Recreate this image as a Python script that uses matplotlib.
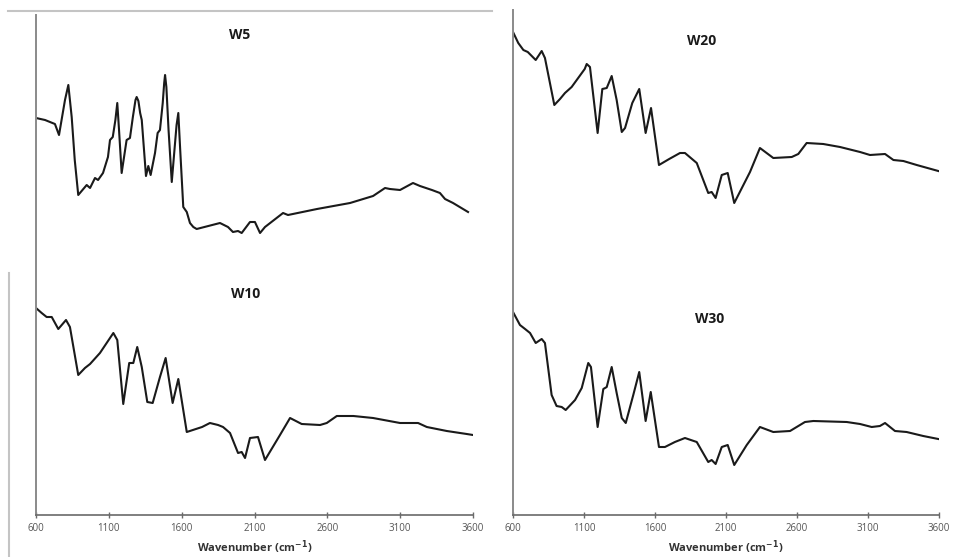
import matplotlib
matplotlib.use("Agg")
import matplotlib.pyplot as plt
from matplotlib.lines import Line2D

# ---- data (wavenumber in cm-1, relative transmittance in arbitrary units) ----
w5_wn = [600, 662, 696, 730, 758, 799, 822, 845, 866, 890, 948, 971, 1005, 1026, 1060, 1094,
         1108, 1127, 1145, 1158, 1170, 1188, 1222, 1245, 1265, 1283, 1291, 1303, 1315, 1326,
         1355, 1371, 1387, 1417, 1435, 1451, 1470, 1480, 1486, 1495, 1510, 1532, 1565, 1577,
         1590, 1611, 1635, 1657, 1680, 1703, 1863, 1918, 1952, 1987, 2012, 2069, 2103, 2138,
         2172, 2296, 2330, 2529, 2756, 2914, 2996, 3030, 3099, 3188, 3236, 3318, 3373, 3408,
         3463, 3566]
w5_val = [397, 395, 393, 391, 380, 415, 430, 398, 355, 320, 330, 327, 337, 335, 342, 358,
          375, 378, 395, 412, 385, 342, 375, 377, 398, 415, 418, 414, 402, 395,
          339, 349, 340, 362, 382, 385, 412, 432, 440, 428, 385, 333, 390, 402,
          365, 308, 303, 292, 288, 286, 292, 288, 283, 284, 282, 293, 293, 282,
          288, 302, 300, 306, 312, 319, 327, 326, 325, 332, 329, 325, 322, 316,
          312, 303]

w10_wn = [600, 639, 673, 708, 753, 806, 833, 890, 936, 971, 1039, 1131, 1158, 1199, 1240, 1268,
          1295, 1326, 1364, 1401, 1451, 1490, 1538, 1577, 1635, 1740, 1794, 1850, 1884, 1932,
          1987, 2012, 2035, 2069, 2124, 2172, 2275, 2344, 2424, 2550, 2596, 2665, 2779, 2914,
          3099, 3223, 3283, 3420, 3557, 3600]
w10_val = [207, 202, 198, 198, 186, 195, 188, 140, 147, 151, 162, 182, 175, 111, 152, 152,
           168, 148, 113, 112, 138, 157, 112, 136, 83, 88, 92, 90, 88, 82,
           62, 63, 57, 77, 78, 55, 80, 97, 91, 90, 92, 99, 99, 97,
           92, 92, 88, 84, 81, 80]

w20_wn = [600, 637, 673, 704, 760, 802, 825, 891, 931, 966, 1013, 1105, 1119, 1142, 1196, 1229,
          1260, 1295, 1330, 1366, 1389, 1440, 1489, 1534, 1572, 1628, 1700, 1776, 1811, 1894,
          1975, 1999, 2027, 2070, 2112, 2158, 2269, 2339, 2433, 2563, 2609, 2668, 2785, 2903,
          3044, 3114, 3220, 3279, 3349, 3443, 3595]
w20_val = [483, 472, 465, 463, 455, 464, 457, 410, 416, 422, 428, 446, 451, 448, 382, 426,
           427, 439, 415, 383, 387, 412, 426, 382, 407, 350, 356, 362, 362, 352,
           322, 323, 317, 340, 342, 312, 343, 367, 357, 358, 361, 372, 371, 368,
           363, 360, 361, 355, 354, 350, 344]

w30_wn = [600, 649, 685, 720, 760, 802, 825, 872, 907, 943, 971, 1037, 1084, 1130, 1149, 1196,
          1236, 1260, 1295, 1330, 1366, 1394, 1447, 1489, 1534, 1570, 1628, 1670, 1740, 1811,
          1894, 1975, 1999, 2027, 2070, 2112, 2158, 2246, 2339, 2433, 2551, 2656, 2715, 2950,
          3044, 3126, 3184, 3220, 3290, 3372, 3489, 3595]
w30_val = [203, 190, 186, 182, 172, 176, 172, 120, 109, 108, 105, 115, 127, 152, 148, 88,
           126, 128, 148, 122, 97, 92, 120, 143, 94, 123, 68, 68, 73, 77,
           73, 53, 55, 51, 68, 70, 50, 70, 88, 83, 84, 93, 94, 93,
           91, 88, 89, 92, 84, 83, 79, 76]

x_ticks = [600, 1100, 1600, 2100, 2600, 3100, 3600]
x_label = r"Wavenumber (cm$^{\mathbf{-1}}$)"

left_titles = ["W5", "W10"]
right_titles = ["W20", "W30"]

plt.rcParams["font.family"] = ["Open Sans", "DejaVu Sans"]

W, H = 960, 557
fig = plt.figure(figsize=(W / 100, H / 100), dpi=100)


def px_rect(x0, y0, x1, y1):
    return [x0 / W, 1 - y1 / H, (x1 - x0) / W, (y1 - y0) / H]


ax_l = fig.add_axes(px_rect(36, 15, 473, 515))
ax_r = fig.add_axes(px_rect(513, 10, 939, 515))

line_kw = dict(color="#1a1a1a", lw=1.5, solid_joinstyle="round")
ax_l.plot(w5_wn, w5_val, **line_kw)
ax_l.plot(w10_wn, w10_val, **line_kw)
ax_r.plot(w20_wn, w20_val, **line_kw)
ax_r.plot(w30_wn, w30_val, **line_kw)

ax_l.set_ylim(0, 500)
ax_r.set_ylim(0, 505)

for ax in (ax_l, ax_r):
    ax.set_xlim(600, 3600)
    ax.set_xticks(x_ticks)
    ax.set_xticklabels([str(t) for t in x_ticks])
    ax.set_yticks([])
    for s in ("top", "right"):
        ax.spines[s].set_visible(False)
    ax.spines["left"].set_color("#8a8a8a")
    ax.spines["left"].set_linewidth(1.4)
    ax.spines["bottom"].set_color("#6a6a6a")
    ax.spines["bottom"].set_linewidth(1.2)
    ax.tick_params(axis="x", direction="inout", length=4, width=1.0, color="#6a6a6a",
                   labelsize=7, labelcolor="#555555", pad=4)
    ax.set_xlabel(x_label, fontsize=8, fontweight="bold", color="#333333", labelpad=3)
    ax.patch.set_alpha(0)

ax_l.text(0.467, 0.96, left_titles[0], transform=ax_l.transAxes, ha="center", va="center",
          fontsize=10, fontweight="bold", color="#1a1a1a")
ax_l.text(0.48, 0.442, left_titles[1], transform=ax_l.transAxes, ha="center", va="center",
          fontsize=10, fontweight="bold", color="#1a1a1a")
ax_r.text(0.443, 0.939, right_titles[0], transform=ax_r.transAxes, ha="center", va="center",
          fontsize=10, fontweight="bold", color="#1a1a1a")
ax_r.text(0.462, 0.3875, right_titles[1], transform=ax_r.transAxes, ha="center", va="center",
          fontsize=10, fontweight="bold", color="#1a1a1a")

# thin grey frame fragments from the composite figure
fig.add_artist(Line2D([8 / W, 492 / W], [1 - 10.7 / H, 1 - 10.7 / H],
                      color="#c4c4c4", lw=1.5, transform=fig.transFigure))
fig.add_artist(Line2D([9 / W, 9 / W], [1 - 273 / H, 0],
                      color="#c4c4c4", lw=1.5, transform=fig.transFigure))

fig.savefig("out.png", dpi=100)
